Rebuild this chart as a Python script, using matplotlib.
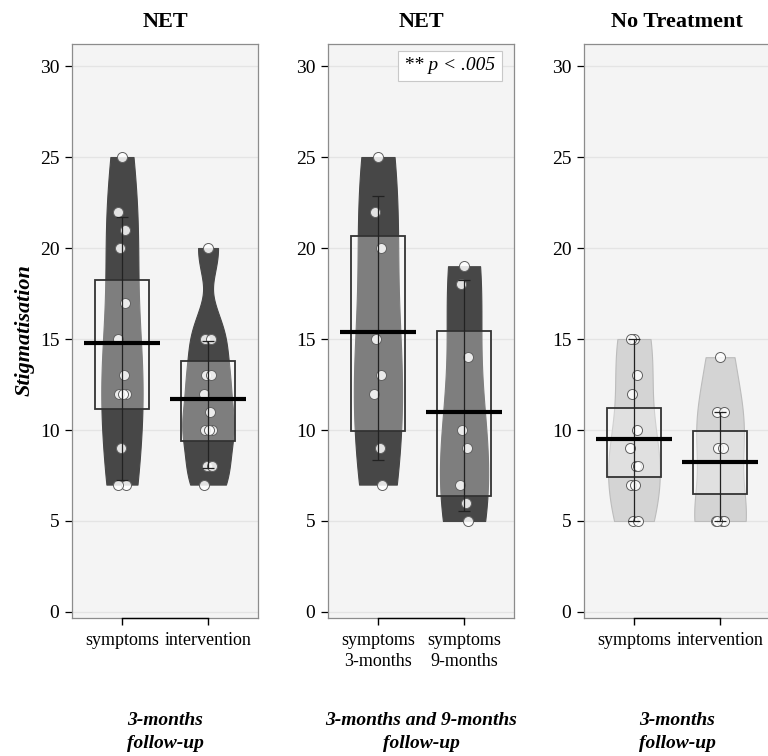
import numpy as np
import matplotlib
matplotlib.use("Agg")
import matplotlib.pyplot as plt

plt.rcParams['font.family'] = ['Liberation Serif', 'DejaVu Serif']

### Data (Stigmatisation scores)
p1_symptoms = [25, 22, 21, 20, 17, 15, 13, 12, 12, 12, 9, 7, 7]
p1_intervention = [20, 15, 15, 13, 13, 12, 11, 10, 10, 10, 8, 8, 7]
p2_3months = [25, 22, 20, 15, 13, 12, 9, 7]
p2_9months = [19, 18, 14, 10, 9, 7, 6, 5]
p3_symptoms = [15, 15, 13, 12, 10, 9, 8, 8, 7, 7, 5, 5]
p3_intervention = [14, 11, 11, 9, 9, 5, 5, 5, 5]

# inference bands (box) and error lines, low / high
p1_band = [(11.15, 18.25), (9.4, 13.8)]
p2_band = [(9.95, 20.66), (6.35, 15.45)]
p3_band = [(7.4, 11.2), (6.5, 9.95)]
p1_err = [(7.25, 21.7), (7.9, 14.9)]
p2_err = [(8.35, 22.85), (5.55, 18.25)]
p3_err = [(5, 15), (5, 11)]

titles = ["NET", "NET", "No Treatment"]
xlabels = [["symptoms", "intervention"],
           ["symptoms\n3-months", "symptoms\n9-months"],
           ["symptoms", "intervention"]]
captions = ["3-months\nfollow-up", "3-months and 9-months\nfollow-up", "3-months\nfollow-up"]
yticks = [0, 5, 10, 15, 20, 25, 30]

panels = [
    dict(groups=[p1_symptoms, p1_intervention], band=p1_band, err=p1_err,
         half=[0.24, 0.30], bean='#474747', bean_edge='#474747'),
    dict(groups=[p2_3months, p2_9months], band=p2_band, err=p2_err,
         half=[0.28, 0.28], bean='#474747', bean_edge='#474747'),
    dict(groups=[p3_symptoms, p3_intervention], band=p3_band, err=p3_err,
         half=[0.30, 0.30], bean='#d4d4d4', bean_edge='#bcbcbc'),
]

# small fixed jitter pattern for the raw points
jit = np.array([0.0, -0.04, 0.04, -0.02, 0.03, -0.05, 0.02, 0.05, -0.03, 0.01, -0.01, 0.045, -0.045])


def nrd0(x):
    x = np.asarray(x, float)
    sd = x.std(ddof=1)
    iqr = (np.percentile(x, 75) - np.percentile(x, 25)) / 1.34
    return 0.9 * min(sd, iqr) * len(x) ** -0.2


def kde(x, grid):
    x = np.asarray(x, float)
    h = nrd0(x)
    z = (grid[:, None] - x[None, :]) / h
    return np.exp(-0.5 * z ** 2).sum(axis=1) / (len(x) * h * np.sqrt(2 * np.pi))


W, H = 768, 756
fig = plt.figure(figsize=(W / 100, H / 100), dpi=100)
lefts = [72, 328, 584]
top_px, bot_px, width_px = 44, 618, 186

for k, p in enumerate(panels):
    ax = fig.add_axes([lefts[k] / W, 1 - bot_px / H, width_px / W, (bot_px - top_px) / H])
    ax.set_facecolor('#f4f4f4')
    ax.set_xlim(-0.58, 1.58)
    ax.set_ylim(-0.33, 31.21)
    ax.set_yticks(yticks)
    ax.yaxis.grid(True, color='#e4e4e4', lw=0.9)
    ax.set_axisbelow(True)

    for i, g in enumerate(p['groups']):
        g = np.asarray(g, float)
        grid = np.linspace(g.min(), g.max(), 300)
        d = kde(g, grid)
        d = (d / d.max()) ** 0.62 * p['half'][i]
        ax.fill_betweenx(grid, i - d, i + d, facecolor=p['bean'], edgecolor=p['bean_edge'],
                         lw=0.8, zorder=2)
        lo, hi = p['band'][i]
        ax.bar(i, hi - lo, bottom=lo, width=0.63, facecolor=(1, 1, 1, 0.3),
               edgecolor='#333333', lw=1.3, zorder=3)
        xs = i + jit[:len(g)]
        ax.scatter(xs, g, s=52, facecolor=(1, 1, 1, 0.85), edgecolor='#606060',
                   lw=0.7, zorder=4)
        m = g.mean()
        elo, ehi = p['err'][i]
        ax.errorbar(i, m, yerr=[[m - elo], [ehi - m]], fmt='none', ecolor='#222222',
                    elinewidth=0.9, capsize=4, capthick=0.9, zorder=5)
        ax.plot([i - 0.44, i + 0.44], [m, m], color='black', lw=3,
                solid_capstyle='butt', zorder=6)

    if k == 1:
        ax.text(0.656, 0.962, "** p < .005", transform=ax.transAxes, ha='center', va='center',
                fontsize=14, fontstyle='italic', zorder=7,
                bbox=dict(boxstyle='square,pad=0.35', fc='white', ec='#c8c8c8', lw=0.8))

    for s in ['left', 'right', 'top']:
        ax.spines[s].set_color('#8c8c8c')
        ax.spines[s].set_linewidth(0.9)
    ax.spines['bottom'].set_bounds(0, 1)
    ax.spines['bottom'].set_color('black')
    ax.spines['bottom'].set_linewidth(1.0)
    ax.plot([0, 1], [0, 0], transform=ax.transAxes, color='#8c8c8c', lw=0.9,
            clip_on=False, zorder=0)

    ax.set_xticks([0, 1])
    ax.set_xticklabels(xlabels[k], fontsize=13, linespacing=1.3)
    ax.tick_params(axis='x', length=5, width=1, color='black', pad=5)
    ax.tick_params(axis='y', length=5, width=0.9, color='black', labelsize=14, pad=4)

    cx = (lefts[k] + width_px / 2) / W
    fig.text(cx, 1 - 22 / H, titles[k], ha='center', va='center', fontsize=16, fontweight='bold')
    fig.text(cx, 1 - 732 / H, captions[k], ha='center', va='center', fontsize=14,
             fontweight='bold', fontstyle='italic', linespacing=1.45)

fig.text(25 / W, 1 - 330 / H, "Stigmatisation", rotation=90, ha='center', va='center',
         fontsize=16, fontweight='bold', fontstyle='italic')

fig.savefig("out.png", dpi=100)
